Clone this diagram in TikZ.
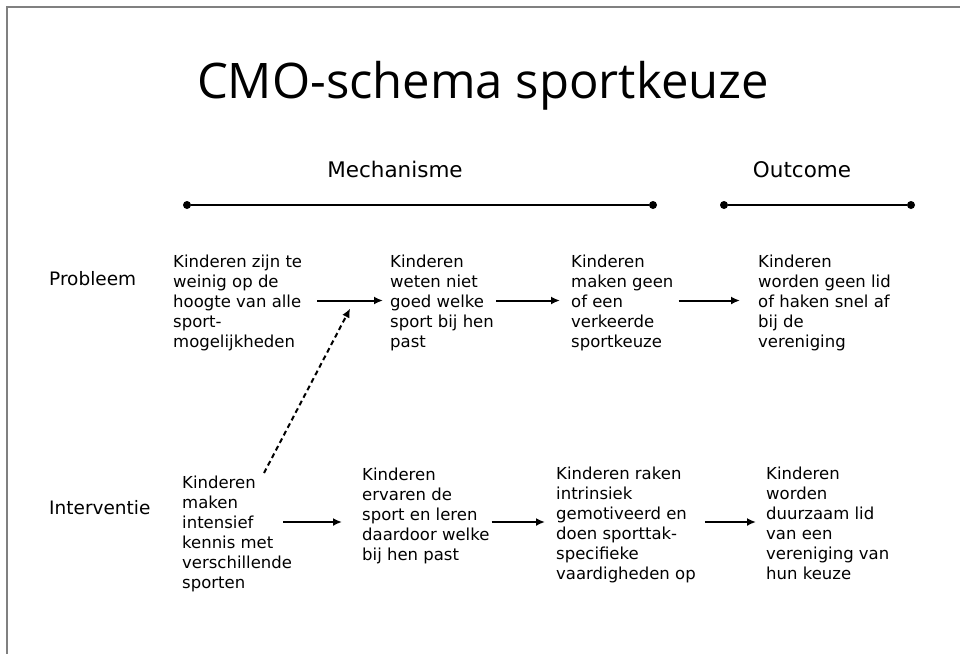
\documentclass[tikz,border=0pt]{standalone}
\usepackage{fontspec}
\setmainfont{DejaVu Sans}
\newfontfamily\titlefont{Open Sans}
\usetikzlibrary{arrows.meta, positioning, calc}
\tikzset{
	title_text/.style={font=\titlefont\fontsize{49}{60}\selectfont, anchor=base, inner sep=0pt},
	heading/.style={font=\fontsize{21.5}{25}\selectfont, anchor=base, inner sep=0pt},
	row_label/.style={font=\fontsize{18.5}{22}\selectfont, anchor=west, inner sep=0pt},
	stage/.style={font=\fontsize{16.5}{20}\selectfont, align=left, anchor=north west, inner sep=0pt},
	dot/.style={circle, fill=black, inner sep=0pt, minimum size=8pt},
	span/.style={line width=1.8pt},
	flow/.style={-{Latex[length=9pt,width=8pt]}, line width=2pt},
	hint/.style={flow, dash pattern=on 5pt off 3.5pt},
	frame/.style={draw=gray, line width=1.2pt}
}
\begin{document}
\begin{tikzpicture}[x=1pt, y=-1pt]
	\useasboundingbox (0,0) rectangle (960,654);
	\draw[frame] (960,7) -- (7,7) -- (7,654);
	\node[title_text] (title) at (483,98) {CMO-schema sportkeuze};
	% kopjes met tijdlijn
	\node[heading] (mech) at (395,177) {Mechanisme};
	\node[heading] (outc) at (802,177) {Outcome};
	\node[dot] (m0) at (187,205) {};
	\node[dot] (m1) at (653,205) {};
	\node[dot] (o0) at (724,205) {};
	\node[dot] (o1) at (911,205) {};
	\draw[span] (m0) -- (m1);
	\draw[span] (o0) -- (o1);
	% rij probleem
	\node[row_label] (probleem) at (49,279) {Probleem};
	\node[stage] (p1) at (173,255) {Kinderen zijn te\\weinig op de\\hoogte van alle\\sport-\\mogelijkheden};
	\node[stage] (p2) at (390,255) {Kinderen\\weten niet\\goed welke\\sport bij hen\\past};
	\node[stage] (p3) at (571,255) {Kinderen\\maken geen\\of een\\verkeerde\\sportkeuze};
	\node[stage] (p4) at (758,255) {Kinderen\\worden geen lid\\of haken snel af\\bij de\\vereniging};
	\coordinate (laneP) at (0,300.5);
	\draw[flow] ($(p1.east |- laneP)+(15,0)$) -- ($(p2.west |- laneP)+(-7,0)$) coordinate[pos=0.5] (mid1);
	\draw[flow] ($(p2.east |- laneP)+(2,0)$) -- ($(p3.west |- laneP)+(-11,0)$);
	\draw[flow] ($(p3.east |- laneP)+(5,0)$) -- ($(p4.west |- laneP)+(-18,0)$);
	% rij interventie
	\node[row_label] (interventie) at (49,508) {Interventie};
	\node[stage] (i1) at (182,476) {Kinderen\\maken\\intensief\\kennis met\\verschillende\\sporten};
	\node[stage] (i2) at (362,468) {Kinderen\\ervaren de\\sport en leren\\daardoor welke\\bij hen past};
	\node[stage] (i3) at (556,467) {Kinderen raken\\intrinsiek\\gemotiveerd en\\doen sporttak-\\specifieke\\vaardigheden op};
	\node[stage] (i4) at (766,467) {Kinderen\\worden\\duurzaam lid\\van een\\vereniging van\\hun keuze};
	\coordinate (laneI) at (0,522);
	\draw[flow] ($(i1.east |- laneI)+(-9,0)$) -- ($(i2.west |- laneI)+(-20,0)$);
	\draw[flow] ($(i2.east |- laneI)+(2,0)$) -- ($(i3.west |- laneI)+(-11,0)$);
	\draw[flow] ($(i3.east |- laneI)+(9,0)$) -- ($(i4.west |- laneI)+(-10,0)$);
	% interventie grijpt in op de eerste stap
	\coordinate (hint0) at ($(i1.north west)+(82,-3)$);
	\draw[hint] (hint0) -- ($(mid1)+(0,8)$);
\end{tikzpicture}
\end{document}
